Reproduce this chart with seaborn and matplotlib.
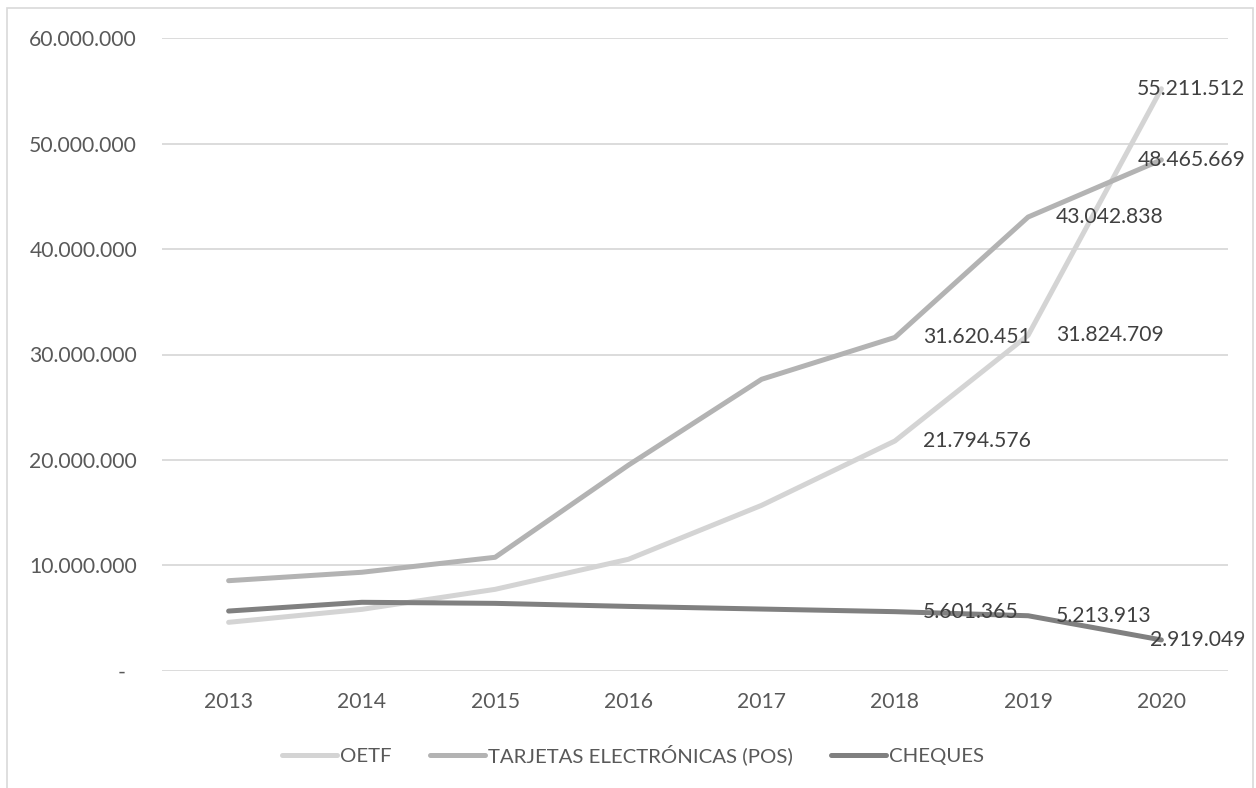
import matplotlib
matplotlib.use("Agg")
import matplotlib.pyplot as plt
import seaborn as sns
import pandas as pd
from matplotlib.patches import Rectangle
from matplotlib.lines import Line2D

years = [2013, 2014, 2015, 2016, 2017, 2018, 2019, 2020]
oetf = [4590000, 5820000, 7720000, 10570000, 15690000, 21794576, 31824709, 55211512]
pos = [8540000, 9340000, 10760000, 19500000, 27650000, 31620451, 43042838, 48465669]
cheques = [5660000, 6490000, 6390000, 6100000, 5850000, 5601365, 5213913, 2919049]
series_names = ["OETF", "TARJETAS ELECTRÓNICAS (POS)", "CHEQUES"]
series_values = [oetf, pos, cheques]
colors = ["#d4d4d4", "#b3b3b3", "#808080"]
label_years = [2018, 2019, 2020]
yticks = [0, 10000000, 20000000, 30000000, 40000000, 50000000, 60000000]

sns.set_theme(style="white")
plt.rcParams['font.family'] = ['Lato', 'DejaVu Sans']

rows = []
for name, vals in zip(series_names, series_values):
    for y, v in zip(years, vals):
        rows.append({"year": y, "value": v, "series": name})
df = pd.DataFrame(rows)

W, H = 1256, 788
NUM_FS = 15.2
LEG_FS = 14.7
fig = plt.figure(figsize=(W / 100, H / 100), dpi=100)
ax = fig.add_axes([162 / W, 1 - 670.7 / H, (1228 - 162) / W, (670.7 - 38.3) / H])

sns.lineplot(data=df, x="year", y="value", hue="series", hue_order=series_names,
             palette=colors, linewidth=3.6, ax=ax, legend=False,
             solid_capstyle="round", solid_joinstyle="round")

ax.set_xlim(2012.5, 2020.5)
ax.set_ylim(0, 60000000)
ax.set_xticks(years)
ax.set_xticklabels([str(y) for y in years])
ax.set_yticks(yticks)


def fmt(v):
    if v == 0:
        return "-  "
    return f"{v:,.0f}".replace(",", ".")


ax.set_yticklabels([fmt(v) for v in yticks])
ax.set_xlabel("")
ax.set_ylabel("")
ax.grid(axis="y", color="#d9d9d9", linewidth=1.3)
ax.grid(axis="x", visible=False)
ax.set_axisbelow(True)
for s in ax.spines.values():
    s.set_visible(False)
ax.tick_params(axis="both", length=0, labelsize=NUM_FS, labelcolor="#595959")
ax.tick_params(axis="y", pad=18)
ax.tick_params(axis="x", pad=15)

# data labels
for vals in series_values:
    for y in label_years:
        v = vals[years.index(y)]
        if y == years[-1]:
            ax.annotate(fmt(v), xy=(y, v), xytext=(84, 0), textcoords="offset pixels",
                        ha="right", va="center", fontsize=NUM_FS, color="#404040", zorder=5)
        else:
            ax.annotate(fmt(v), xy=(y, v), xytext=(28, 0), textcoords="offset pixels",
                        ha="left", va="center", fontsize=NUM_FS, color="#404040", zorder=5)

handles = [Line2D([0], [0], color=c, linewidth=3.6, solid_capstyle="round") for c in colors]
fig.legend(handles, series_names, loc="center", bbox_to_anchor=(633 / W, 1 - 755 / H),
           ncol=3, frameon=False, fontsize=LEG_FS, labelcolor="#595959",
           handlelength=2.7, handletextpad=0.15, columnspacing=1.85)

fig.patches.append(Rectangle((7 / W, -0.01), (1253 - 7) / W, 1 - 8 / H + 0.01,
                             transform=fig.transFigure, fill=False,
                             edgecolor="#d9d9d9", linewidth=1.2))

fig.savefig("out.png", dpi=100, facecolor="white")
